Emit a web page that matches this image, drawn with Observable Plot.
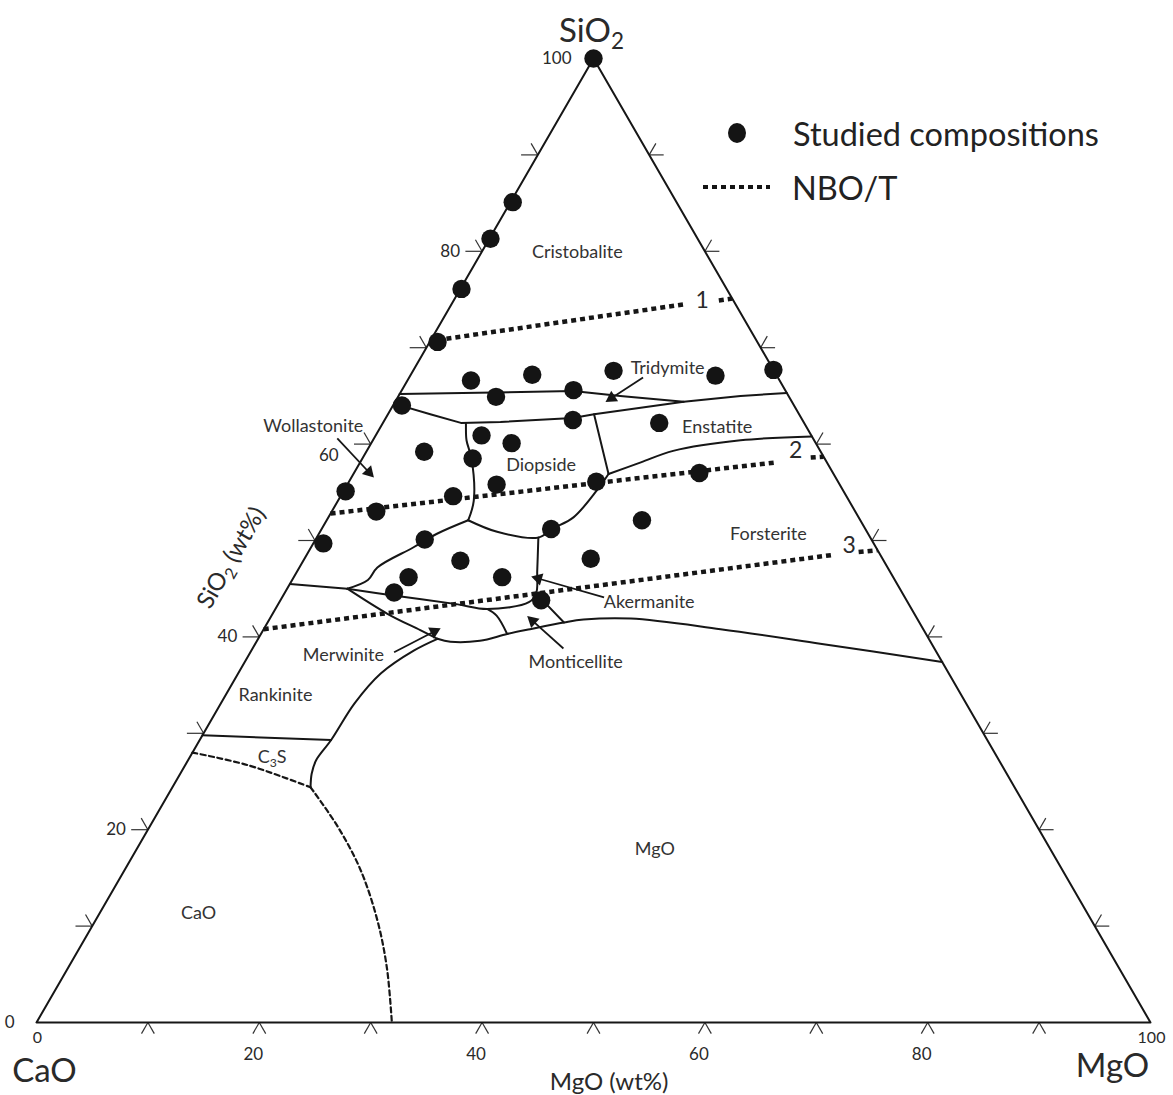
<!DOCTYPE html>
<html>
<head>
<meta charset="utf-8">
<script src="https://cdn.jsdelivr.net/npm/d3@7"></script>
<script src="https://cdn.jsdelivr.net/npm/@observablehq/plot@0.6"></script>
<style>
  body { margin: 0; background: #fff; }
  #wrap { position: relative; width: 1173px; height: 1095px; font-family: Lato, "Open Sans", sans-serif; color: #222; }
  #wrap svg { display: block; }
  .lg-row { position: absolute; display: flex; align-items: center; height: 40px; }
  .lg-key { width: 70px; display: flex; justify-content: center; align-items: center; }
  .lg-dot { width: 18px; height: 20px; border-radius: 50%; background: #141414; }
  .lg-line { width: 67px; height: 4.5px; background: repeating-linear-gradient(90deg, #141414 0 5px, transparent 5px 9px); }
  .lg-text { font-size: 32.5px; margin-left: 21px; color: #222; }
</style>
</head>
<body>
<div id="wrap">
  <div class="lg-row" style="left:702px; top:113px;"><div class="lg-key"><div class="lg-dot"></div></div><div class="lg-text">Studied compositions</div></div>
  <div class="lg-row" style="left:701px; top:167px;"><div class="lg-key"><div class="lg-line"></div></div><div class="lg-text">NBO/T</div></div>
</div>
<script>
// All compositions are [SiO2 wt%, MgO wt%]; CaO = 100 - SiO2 - MgO.

// Triangle vertices
const vertexNames = ["SiO2", "CaO", "MgO"];
const vertices = [[100, 0], [0, 0], [0, 100]];

// Studied compositions (dots)
const studied = [
  [100, 0], [85.1, 0.2], [81.3, 0.1], [76.1, 0.1], [70.6, 0.7],
  [66.6, 5.7], [67.2, 10.9], [67.6, 18.0], [67.1, 27.4], [67.7, 32.3],
  [64.9, 8.8], [65.6, 15.4], [64.0, 0.8], [62.5, 16.9], [62.2, 24.8],
  [60.9, 9.5], [60.1, 12.6], [59.2, 5.2], [58.5, 9.9],
  [54.6, 10.1], [55.8, 13.4], [55.1, 0.2], [53.0, 4.0], [49.7, 0.9],
  [50.1, 9.8], [51.2, 20.6], [47.9, 14.1], [46.2, 18.7], [46.2, 10.3],
  [44.6, 9.8], [43.8, 23.4], [56.1, 22.2], [57.0, 31.0], [52.1, 28.3],
  [48.1, 25.7]
];

// Phase boundaries (solid, straight)
const bCristTrid = [[65.2, 0], [65.5, 15.4], [65.0, 19.9], [64.4, 25.9]];
const bTridLower = [[64.2, 0], [63.1, 3.8], [62.2, 7.0], [62.3, 10.5], [62.7, 16.8], [63.1, 18.5], [64.4, 25.9], [65.0, 30.7], [65.3, 34.7]];
const bDiopEnst = [[63.1, 18.5], [56.9, 22.9]];
const bRankTop = [[45.0, 5.4], [45.5, 0]];
const bRankC3S = [[29.3, 11.8], [29.8, 0]];
const bMonticB = [[44.1, 23.2], [43.3, 24.2], [41.5, 26.6]];
// Phase boundaries (solid, curved)
const bWollDiop = [[62.1, 7.5], [61.9, 7.6], [60.4, 8.4], [58.5, 9.8], [54.1, 12.2], [52.1, 12.7]];
const bWollLower = [[52.1, 12.7], [50.7, 10.6], [49.3, 9.2], [47.2, 7.0], [45.9, 6.8], [45.0, 5.4]];
const bDiopBottom = [[52.1, 12.7], [50.9, 15.9], [50.3, 19.9], [51.2, 20.7], [52.4, 22.0], [55.2, 22.7], [56.9, 22.9]];
const bEnstFors = [[56.9, 22.9], [58.1, 25.2], [59.3, 27.5], [60.4, 33.0], [60.8, 39.2]];
const bAkerTop = [[50.3, 19.9], [46.9, 21.5], [44.5, 22.6], [43.6, 22.4], [42.9, 19.0], [43.4, 16.0], [44.3, 9.9], [45.0, 5.4]];
const bMerwTop = [[45.0, 5.4], [42.4, 10.3], [40.7, 14.1], [39.8, 16.1]];
const bMgOTop = [[39.8, 16.1], [39.5, 17.4], [39.6, 20.0], [40.3, 22.1], [40.8, 23.9], [41.5, 26.6], [41.8, 28.2], [41.9, 32.4], [40.8, 41.0], [39.3, 50.7], [37.4, 62.6]];
const bMerwMgO = [[39.8, 16.1], [38.6, 14.6], [36.2, 12.8], [33.1, 12.0], [29.3, 11.8], [27.2, 11.5], [25.8, 11.8], [24.4, 12.4]];
const bMonticA = [[42.9, 19.0], [42.2, 20.2], [40.3, 22.1]];
// Dashed boundaries
const dashC3S = [[28.0, 0], [26.7, 5.6], [24.4, 12.4]];
const dashCaO = [[24.4, 12.4], [20.3, 16.9], [15.8, 21.2], [10.6, 25.3], [5.7, 28.6], [0, 31.9]];

// NBO/T iso-lines
const nboLabels = ["1", "2", "3"];
const nboStart = [[70.8, 0.6], [52.8, 0], [40.8, 0]];
const nboEnd = [[74.5, 20.9], [58.1, 37.3], [48.5, 47.2]];
const nboTailStart = [[74.9, 23.8], [58.6, 40.2], [48.8, 49.4]];
const nboTailEnd = [[75.1, 24.9], [58.7, 41.3], [49.0, 51.0]];
const nboLabelAt = [[74.9, 22.3], [59.3, 38.5], [49.5, 48.2]];

// Phase field labels
const phaseNames = ["Cristobalite", "Tridymite", "Enstatite", "Diopside", "Wollastonite", "Forsterite", "Akermanite", "Monticellite", "Merwinite", "Rankinite", "C3S", "CaO", "MgO"];
const phasePos = [[79.9, 8.6], [67.9, 22.7], [61.8, 30.2], [57.8, 16.4], [61.9, -6.1], [50.6, 40.4], [43.6, 33.2], [37.4, 29.7], [38.1, 8.5], [33.9, 4.5], [27.5, 7.4], [11.3, 8.9], [18.0, 46.5]];

// Pointer arrows (label -> field)
const arrowFrom = [[60.6, -3.3], [66.9, 21.0], [44.1, 28.9], [38.8, 27.9], [38.4, 12.9]];
const arrowTo = [[56.7, 1.8], [64.5, 19.0], [46.2, 21.5], [42.0, 23.2], [40.8, 15.7]];

// Axis ticks and labels
const tickValues = [10, 20, 30, 40, 50, 60, 70, 80, 90];
const siLabels = [100, 80, 60, 40, 20, 0];
const mgLabelsMid = [20, 40, 60, 80];
const mgLabelsEnd = [0, 100];

// ---- helpers ----
const X = d => d[1] + d[0] / 2;   // cartesian x in "MgO units"
const Y = d => d[0];              // height = SiO2
const xOpts = {domain: [0, 100], range: [36, 1150]};
const yOpts = {domain: [0, 100], range: [1022, 58]};
const sx = Plot.scale({x: xOpts});
const sy = Plot.scale({y: yOpts});

const toRows = list => list.flatMap((pts, id) => pts.map(p => ({p, id})));
const straightRows = toRows([[...vertices, vertices[0]], bCristTrid, bTridLower, bDiopEnst, bRankTop, bRankC3S, bMonticB]);
const curvedRows = toRows([bWollDiop, bWollLower, bDiopBottom, bEnstFors, bAkerTop, bMerwTop, bMgOTop, bMerwMgO, bMonticA]);
const dashedRows = toRows([dashC3S, dashCaO]);

const nboMain = nboLabels.map((l, i) => ({a: nboStart[i], b: nboEnd[i]}));
const nboTail = nboLabels.map((l, i) => ({a: nboTailStart[i], b: nboTailEnd[i]}));
const nboText = nboLabels.map((l, i) => ({p: nboLabelAt[i], t: l}));

const tickArms = tickValues.flatMap(k => [
  {a: [0, k], b: [-1.15, k]}, {a: [0, k], b: [-1.15, k + 1.15]},                // bottom  Λ
  {a: [k, 0], b: [k, -1.5]}, {a: [k, 0], b: [k + 1.2, -1.2]},                    // left
  {a: [k, 100 - k], b: [k, 100 - k + 1.3]}, {a: [k, 100 - k], b: [k + 1.2, 100 - k]} // right
]);

const arrows = arrowFrom.map((f, i) => {
  const t = arrowTo[i];
  const px = sx.apply(X(t)) - sx.apply(X(f));
  const py = sy.apply(Y(t)) - sy.apply(Y(f));
  const len = Math.hypot(px, py);
  const back = 5 / len;
  return {f, t, head: [t[0] - (t[0] - f[0]) * back, t[1] - (t[1] - f[1]) * back],
          angle: Math.atan2(py, px) * 180 / Math.PI + 90};
});

const ink = "#161616";
const txt = "#2a2a2a";
const linkOpts = {x1: d => X(d.a), y1: d => Y(d.a), x2: d => X(d.b), y2: d => Y(d.b)};

const svg = Plot.plot({
  width: 1173, height: 1095, margin: 0,
  x: {...xOpts, axis: null},
  y: {...yOpts, axis: null},
  style: {fontFamily: "Lato, 'Open Sans', sans-serif", background: "transparent", overflow: "visible"},
  marks: [
    // ticks
    Plot.link(tickArms, {...linkOpts, stroke: "#333", strokeWidth: 1.2}),
    // dashed boundaries
    Plot.line(dashedRows, {x: d => X(d.p), y: d => Y(d.p), z: "id", curve: "catmull-rom", stroke: ink, strokeWidth: 2.2, strokeDasharray: "5,3.5"}),
    // solid boundaries
    Plot.line(straightRows, {x: d => X(d.p), y: d => Y(d.p), z: "id", stroke: ink, strokeWidth: 2, strokeLinejoin: "round"}),
    Plot.line(curvedRows, {x: d => X(d.p), y: d => Y(d.p), z: "id", curve: "catmull-rom", stroke: ink, strokeWidth: 2}),
    // NBO/T lines
    Plot.link(nboMain, {...linkOpts, stroke: ink, strokeWidth: 4.5, strokeDasharray: "5,4"}),
    Plot.link(nboTail, {...linkOpts, stroke: ink, strokeWidth: 4.5, strokeDasharray: "5,4"}),
    Plot.text(nboText, {x: d => X(d.p), y: d => Y(d.p), text: "t", fontSize: 23, fill: txt}),
    // arrows
    Plot.link(arrows, {x1: d => X(d.f), y1: d => Y(d.f), x2: d => X(d.head), y2: d => Y(d.head), stroke: ink, strokeWidth: 1.8}),
    Plot.dot(arrows, {x: d => X(d.head), y: d => Y(d.head), symbol: "triangle2", r: 6, fill: ink, rotate: "angle"}),
    // phase labels
    Plot.text(phaseNames, {x: (d, i) => X(phasePos[i]), y: (d, i) => Y(phasePos[i]), text: d => d, fontSize: 18, fill: "#333"}),
    // studied compositions
    Plot.dot(studied, {x: X, y: Y, r: 9.2, fill: "#141414", stroke: "none"}),
    // axis labels (SiO2 along left edge)
    Plot.text(siLabels.filter(k => k !== 60), {x: k => X([k, 0]), y: k => Y([k, 0]), text: d => String(d), textAnchor: "end", dx: -22, fontSize: 17, fill: txt}),
    Plot.text(siLabels.filter(k => k === 60), {x: k => X([k, 0]), y: k => Y([k, 0]), text: d => String(d), textAnchor: "end", dx: -32, dy: 11, fontSize: 17, fill: txt}),
    // axis labels (MgO along bottom edge)
    Plot.text(mgLabelsMid, {x: k => X([0, k]), y: 0, text: d => String(d), dx: -6, dy: 32, fontSize: 17, fill: txt}),
    Plot.text(mgLabelsEnd, {x: k => X([0, k]), y: 0, text: d => String(d), dx: 1, dy: 15, fontSize: 16, fill: txt}),
    // axis titles
    Plot.text(["SiO2 (wt%)"], {x: X([48.2, -6.6]), y: Y([48.2, -6.6]), text: d => d, rotate: -60, fontSize: 24, fill: txt}),
    Plot.text(["MgO (wt%)"], {x: X([0, 51.4]), y: 0, text: d => d, dy: 60, fontSize: 24, fill: txt}),
    // vertex titles
    Plot.text([0], {x: X(vertices[0]), y: Y(vertices[0]), text: () => vertexNames[0], dx: -2, dy: -27, fontSize: 33, fill: txt}),
    Plot.text([1], {x: X(vertices[1]), y: Y(vertices[1]), text: () => vertexNames[1], dx: 8, dy: 49, fontSize: 33, fill: txt}),
    Plot.text([2], {x: X(vertices[2]), y: Y(vertices[2]), text: () => vertexNames[2], dx: -38, dy: 44, fontSize: 33, fill: txt})
  ]
});

// chemical subscripts
const subs = {"SiO2": ["SiO", "2", ""], "C3S": ["C", "3", "S"], "SiO2 (wt%)": ["SiO", "2", " (wt%)"]};
d3.select(svg).selectAll("text").each(function () {
  const parts = subs[this.textContent];
  if (!parts) return;
  const el = d3.select(this);
  el.text(null);
  el.append("tspan").text(parts[0]);
  el.append("tspan").attr("font-size", "68%").attr("dy", "0.32em").text(parts[1]);
  if (parts[2]) el.append("tspan").attr("dy", "-0.22em").text(parts[2]);
});

const wrap = document.getElementById("wrap");
wrap.insertBefore(svg, wrap.firstChild);
</script>
</body>
</html>
